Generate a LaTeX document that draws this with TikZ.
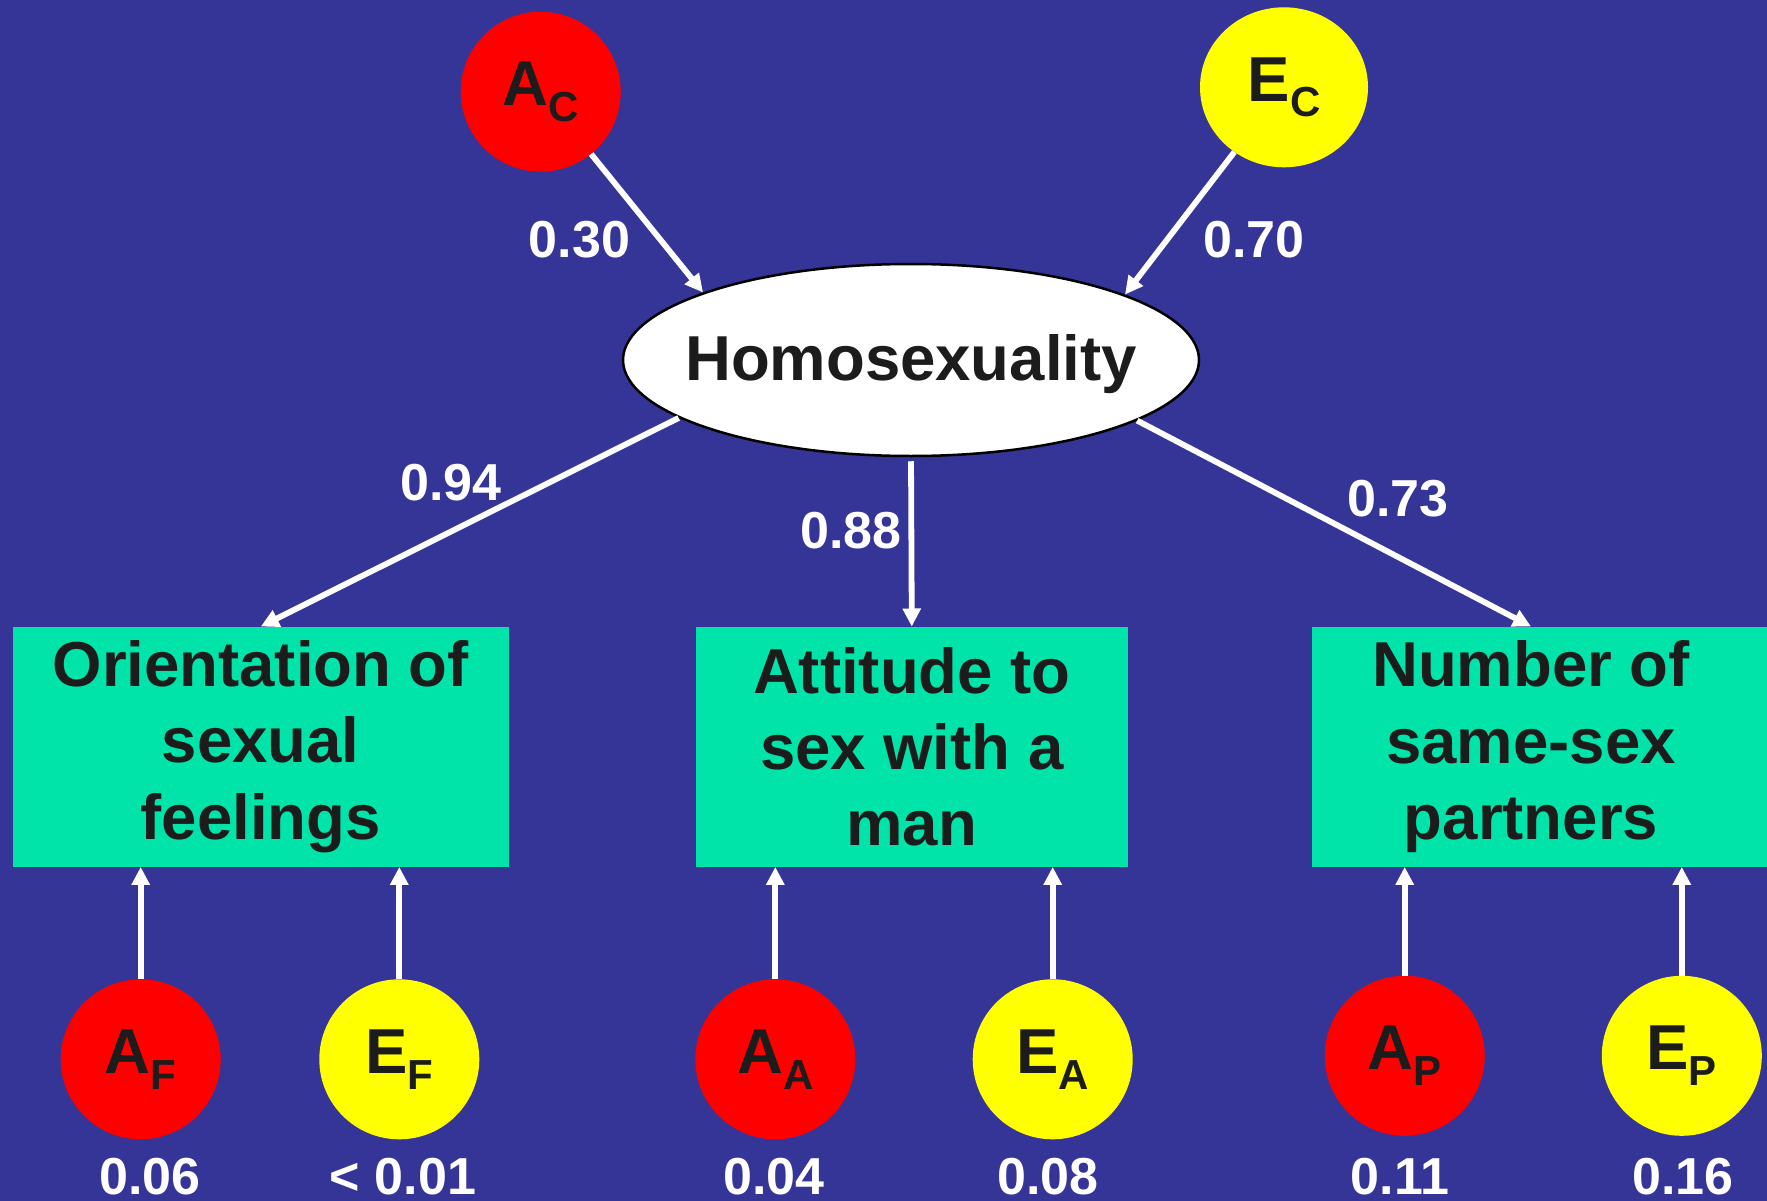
\documentclass[tikz,border=0pt]{standalone}
\usepackage{fontspec}
\setmainfont{Liberation Sans}
\usetikzlibrary{shapes.geometric,arrows.meta}
\definecolor{bgblue}{RGB}{53,53,152}
\definecolor{boxgreen}{RGB}{0,228,170}
\definecolor{inkdark}{RGB}{28,28,28}
\definecolor{redc}{RGB}{255,0,0}
\definecolor{yelc}{RGB}{255,255,0}
\newcommand\subl[1]{\raisebox{-15.7pt}{\fontsize{42}{42}\selectfont #1}}
\begin{document}
\begin{tikzpicture}[x=1pt,y=1pt,
  big/.style={font=\bfseries\fontsize{63.5}{76.2}\selectfont, text=inkdark},
  latent/.style={big, circle, minimum size=160pt, inner sep=0pt},
  redlat/.style={latent, fill=redc},
  yellat/.style={latent, fill=yelc},
  obsbox/.style={big, rectangle, fill=boxgreen, minimum height=240pt, inner sep=0pt, align=center},
  coef/.style={font=\bfseries\fontsize{52}{60}\selectfont, text=white, inner sep=0pt},
  conn/.style={draw=white, line width=5.8pt, -{Triangle[length=18pt,width=17.5pt]}}
]
\fill[bgblue] (0,0) rectangle (1767,-1201);
\useasboundingbox (0,0) rectangle (1767,-1201);

% top latent factors
\node[redlat] (AC) at (540.7,-91.7) {A\subl{C}};
\node[big, ellipse, fill=yelc, minimum width=168pt, minimum height=160pt, inner sep=0pt] (EC) at (1284,-87.3) {E\subl{C}};

% common factor
\node[big, ellipse, fill=white, draw=black, line width=2.5pt, minimum width=576pt, minimum height=192pt, inner sep=0pt, text height=50pt, text depth=10pt] (H) at (911,-360) {\makebox[0pt]{Homosexuality}};

% observed measures
\node[obsbox, minimum width=496.3pt] (B1) at (260.8,-746.7) {Orientation of\\sexual\\feelings};
\node[obsbox, minimum width=431.7pt] (B2) at (911.8,-746.7) {Attitude to\\sex with a\\man};
\node[obsbox, minimum width=438pt] (B3) at (1531,-746.7) {Number of\\same-sex\\partners};
\fill[boxgreen] (B3.north east) rectangle (1767,-866.7);

% specific factors
\node[redlat] (AF) at (140.7,-1059.3) {A\subl{F}};
\node[yellat] (EF) at (399.3,-1059.3) {E\subl{F}};
\node[redlat] (AA) at (775.3,-1059.3) {A\subl{A}};
\node[yellat] (EA) at (1052.7,-1059.3) {E\subl{A}};
\node[redlat] (AP) at (1404.7,-1055.8) {A\subl{P}};
\node[yellat] (EP) at (1681.8,-1055.8) {E\subl{P}};

% connectors
\draw[conn] (AC) -- (H.162.75);
\draw[conn] (EC) -- (H.17.3);
\draw[conn] (H.194.4) -- (B1.north);
\draw[conn, shorten <=4pt] (H.south) -- (B2.north);
\draw[conn] (H.345.9) -- (B3.north);
\draw[conn] (AF.north) -- (AF.north |- B1.south);
\draw[conn] (EF.north) -- (EF.north |- B1.south);
\draw[conn] (AA.north) -- (AA.north |- B2.south);
\draw[conn] (EA.north) -- (EA.north |- B2.south);
\draw[conn] (AP.north) -- (AP.north |- B3.south);
\draw[conn] (EP.north) -- (EP.north |- B3.south);

% coefficients
\node[coef] (l030) at (579.5,-240) {0.30};
\node[coef] (l070) at (1253.7,-240) {0.70};
\node[coef] (l094) at (451,-482.6) {0.94};
\node[coef] (l088) at (851,-531) {0.88};
\node[coef] (l073) at (1398,-499) {0.73};
\node[coef] (l006) at (150,-1176.7) {0.06};
\node[coef] (l001) at (403,-1176.7) {< 0.01};
\node[coef] (l004) at (773.7,-1176.7) {0.04};
\node[coef] (l008) at (1048,-1176.7) {0.08};
\node[coef] (l011) at (1400,-1176.7) {0.11};
\node[coef] (l016) at (1683,-1176.7) {0.16};
\end{tikzpicture}
\end{document}
